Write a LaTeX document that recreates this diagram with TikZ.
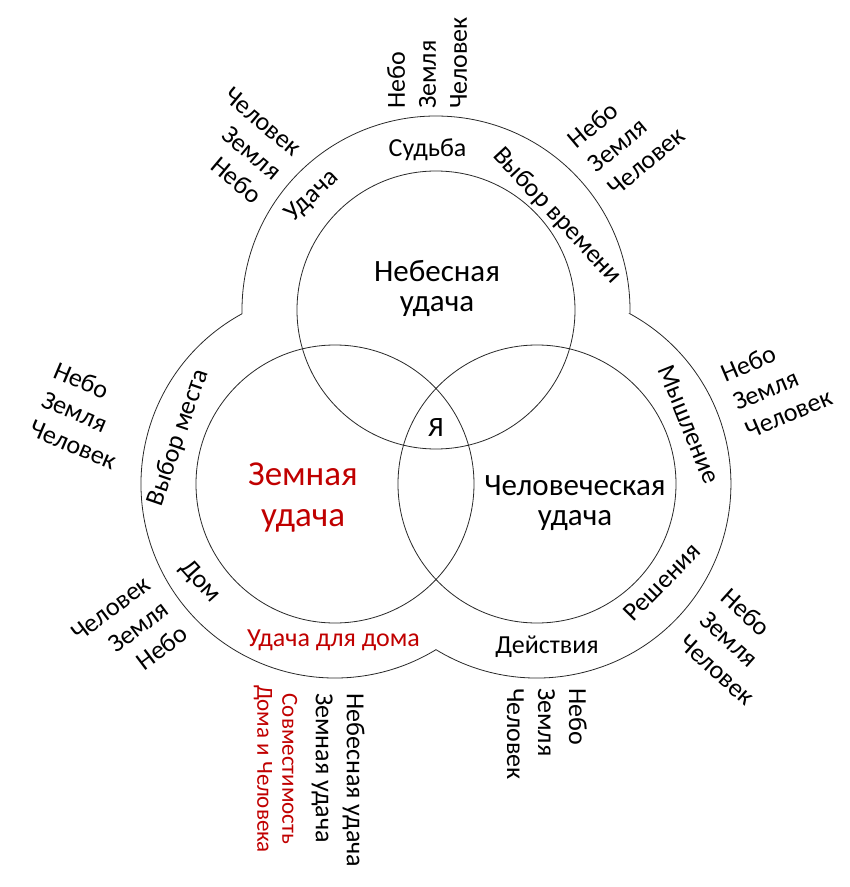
\documentclass[tikz,border=0pt]{standalone}
\usepackage{fontspec}
\setmainfont{Carlito}
\definecolor{luckred}{RGB}{192, 0, 0}
\definecolor{ringgray}{RGB}{40, 40, 40}
\tikzset{
  ringline/.style={draw=ringgray, line width=0.8pt},
  ringlabel/.style={inner sep=0pt, font=\fontsize{26}{31}\selectfont},
  trio/.style={inner sep=0pt, font=\fontsize{26}{31}\selectfont},
  bigtext/.style={inner sep=0pt, align=center, font=\fontsize{31}{30}\selectfont}
}

\begin{document}
\begin{tikzpicture}[x=1pt, y=1pt]
\useasboundingbox (-436,-461) rectangle (414,426);
\coordinate (heaven) at (0,116);
\coordinate (earth) at (-101,-58);
\coordinate (human) at (101,-58);

\draw[ringline] ([shift={(-1.11:194pt)}]heaven) arc[start angle=-1.11, end angle=181.11, radius=194pt]
  arc[start angle=118.63, end angle=301.37, radius=194pt]
  arc[start angle=238.63, end angle=421.37, radius=194pt] -- cycle;
\draw[ringline] (heaven) circle[radius=139pt];
\draw[ringline] (earth) circle[radius=139pt];
\draw[ringline] (human) circle[radius=139pt];

\node[bigtext] (heavenluck) at (1,138) {Небесная\\удача};
\node[bigtext, text=luckred, font=\fontsize{35}{41}\selectfont] (earthluck) at (-133,-71.5) {Земная\\удача};
\node[bigtext] (humanluck) at (139,-77) {Человеческая\\удача};
\node[bigtext, font=\fontsize{28}{30}\selectfont] (self) at (0,-1.5) {Я};

\node[ringlabel] (fate) at (-8.5,276.5) {Судьба};
\node[ringlabel, rotate=43] (luck) at (-124,230) {Удача};
\node[ringlabel, rotate=-47] (timechoice) at (121,210) {Выбор времени};
\node[ringlabel, rotate=71] (placechoice) at (-257.5,-11.5) {Выбор места};
\node[ringlabel, rotate=-68] (thinking) at (253,1.5) {Мышление};
\node[ringlabel, rotate=-48] (home) at (-236,-156) {Дом};
\node[ringlabel, text=luckred] (homeluck) at (-102.5,-214) {Удача для дома};
\node[ringlabel] (actions) at (111,-221) {Действия};
\node[ringlabel, rotate=45.5] (decisions) at (226,-156) {Решения};

\node[trio, rotate=90, anchor=west, align=left] (trioa) at (-9,317) {Небо\\Земля\\Человек};
\node[trio, rotate=-40, anchor=east, align=right] (triob) at (-158,251) {Человек\\Земля\\Небо};
\node[trio, rotate=40, anchor=west, align=left] (trioc) at (155,259) {Небо\\Земля\\Человек};
\node[trio, rotate=-23, anchor=west, align=left] (triod) at (-393,28) {Небо\\Земля\\Человек};
\node[trio, rotate=23, anchor=west, align=left] (trioe) at (298,23) {Небо\\Земля\\Человек};
\node[trio, rotate=37, anchor=east, align=right] (triof) at (-270,-180) {Человек\\Земля\\Небо};
\node[trio, rotate=-42, anchor=west, align=left] (triog) at (268,-190) {Небо\\Земля\\Человек};
\node[trio, rotate=-90, anchor=west, align=left] (trioh) at (111,-262) {Небо\\Земля\\Человек};
\node[trio, rotate=-90, anchor=west, align=left] (lucklist) at (-98,-267) {Небесная удача\\Земная удача};
\node[trio, rotate=-90, align=center, text=luckred, font=\fontsize{23}{25}\selectfont] (match) at (-160.5,-343) {Совместимость\\Дома и Человека};
\end{tikzpicture}
\end{document}
